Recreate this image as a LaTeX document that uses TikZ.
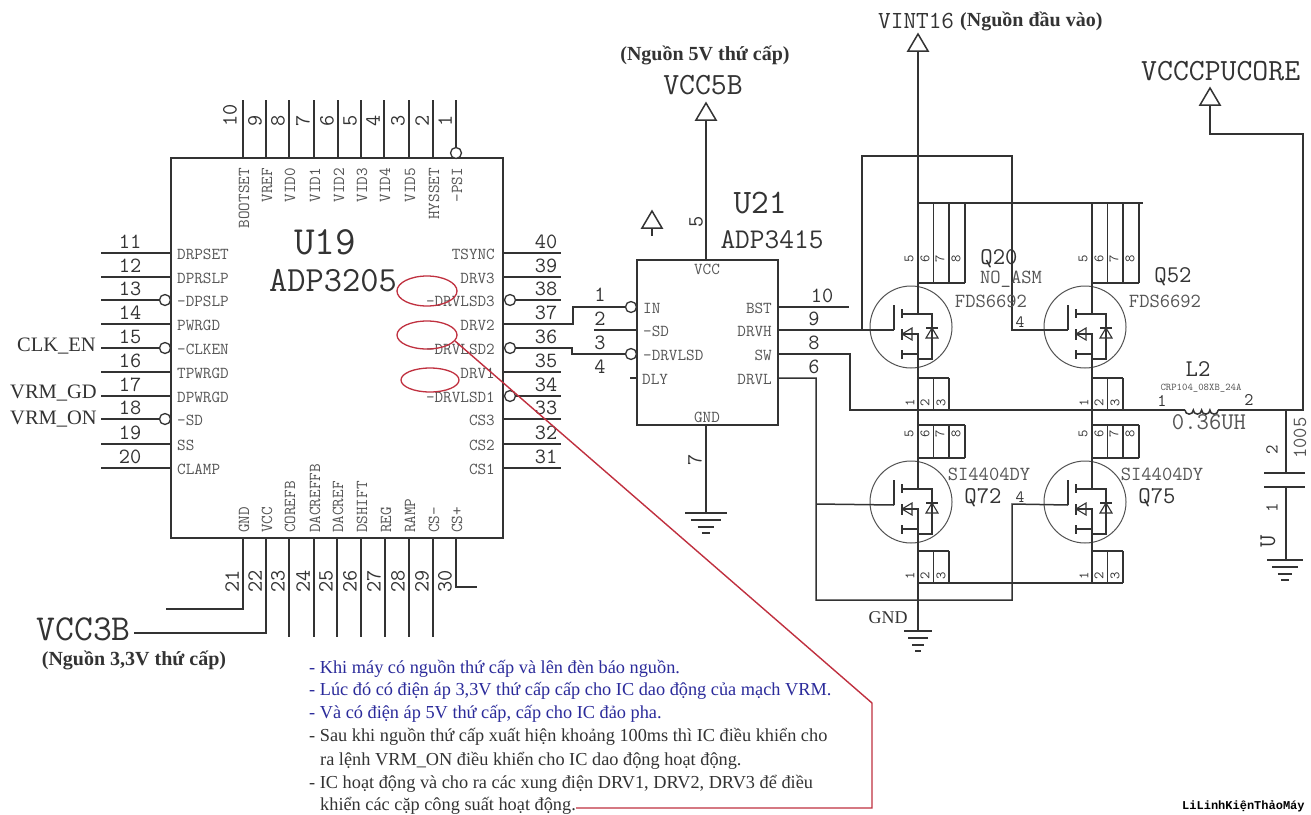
\documentclass[tikz,border=0pt]{standalone}
\usepackage{fontspec}
\setmainfont{Liberation Serif}
\setmonofont[Scale=1.143]{Latin Modern Mono}
\newcommand{\monof}{\ttfamily}
\newfontfamily\wmfont{Liberation Mono}
\usetikzlibrary{shapes.geometric,calc}
\definecolor{ink}{HTML}{333333}
\definecolor{lab}{HTML}{555555}
\definecolor{redl}{HTML}{C0303F}
\definecolor{bluet}{HTML}{2B2B9B}
\newcommand{\fsz}[1]{\fontsize{#1}{#1}\selectfont}
\tikzset{
 wire/.style={draw=ink,line width=1.5pt},
 thin wire/.style={draw=ink,line width=1.1pt},
 chip/.style={draw=ink,line width=1.6pt,inner sep=0pt,rectangle},
 bub/.style={circle,draw=ink,line width=1.3pt,fill=white,minimum size=11pt,inner sep=0pt},
 num/.style={font=\monof\fsz{19},text=ink,inner sep=0pt},
 lbl/.style={font=\monof\bfseries\fsz{14.6},text=lab,inner sep=0pt},
 small/.style={font=\monof\fsz{12.5},text=ink,inner sep=0pt},
 mid/.style={font=\monof\fsz{17.5},text=lab,inner sep=0pt},
 big/.style={font=\monof\fsz{21},text=ink,inner sep=0pt},
 serifl/.style={font=\fsz{20.5},text=ink,inner sep=0pt},
 boldl/.style={font=\bfseries\fsz{20},text=ink,inner sep=0pt},
 note/.style={font=\fsz{18.3},inner sep=0pt,anchor=west},
 ring/.style={ellipse,draw=redl,line width=1.3pt,inner sep=0pt},
 redw/.style={draw=redl,line width=1.4pt},
}
% triangle rail symbol: apex at (x,y)
\newcommand{\railtri}[2]{\draw[wire,line join=miter] (#1,#2) -- ++(10,17) -- ++(-20,0) -- cycle;}
% ground symbol
\newcommand{\gnds}[3]{\draw[wire] (#1-#3,#2) -- (#1+#3,#2);
 \draw[wire] (#1-#3*0.7,#2+7) -- (#1+#3*0.7,#2+7);
 \draw[wire] (#1-#3*0.4,#2+14) -- (#1+#3*0.4,#2+14);
 \draw[wire] (#1-#3*0.2,#2+20) -- (#1+#3*0.2,#2+20);}
% MOSFET: name, cx, cy
\newcommand{\fet}[3]{
 \node[circle,draw=ink!85,line width=1pt,minimum size=82pt,inner sep=0pt] (#1) at (#2,#3) {};
 \begin{scope}[shift={(#2,#3)}]
  \coordinate (#1g) at (-17,3);
  \coordinate (#1d) at (7,-41);
  \coordinate (#1s) at (7,41);
  \draw[wire] (-17,-22) -- (-17,3);
  \draw[wire] (-9,-18) -- (-9,-9);
  \draw[wire] (-9,2) -- (-9,13);
  \draw[wire] (-9,23) -- (-9,32);
  \draw[wire] (-9,-13) -- (7,-13);
  \draw[wire] (-9,27) -- (7,27);
  \draw[wire] (-9,7) -- (7,7) -- (7,41);
  \draw[wire] (7,-41) -- (7,-13) -- (21,-13) -- (21,32) -- (7,32);
  \draw[thin wire] (-9,7) -- (1,1) -- (1,13) -- cycle;
  \draw[thin wire] (21,1) -- (27,11) -- (15,11) -- cycle;
  \draw[thin wire] (15,1) -- (27,1);
 \end{scope}}
% drain comb: x of first leg, top y, bottom y
\newcommand{\combd}[3]{\foreach \dx in {0,15.5,31,47}{\draw[wire] (#1+\dx,#2) -- (#1+\dx,#3);}
 \draw[wire] (#1,#3) -- (#1+47,#3);
 \foreach \dx/\n in {-9/5,7/6,22/7,38/8}{\node[small,rotate=90] at (#1+\dx,#3-24) {\n};}}
\newcommand{\combdb}[3]{\foreach \dx in {0,15.5,31,47}{\draw[wire] (#1+\dx,#2) -- (#1+\dx,#3);}
 \draw[wire] (#1,#2) -- (#1+47,#2); \draw[wire] (#1,#3) -- (#1+47,#3);
 \foreach \dx/\n in {-9/5,7/6,22/7,38/8}{\node[small,rotate=90] at (#1+\dx,#2+9) {\n};}}
\newcommand{\combs}[3]{\foreach \dx in {0,15.5,31}{\draw[wire] (#1+\dx,#2) -- (#1+\dx,#3);}
 \draw[wire] (#1,#2) -- (#1+31,#2);
 \foreach \dx/\n in {-8/1,7/2,23/3}{\node[small,rotate=90] at (#1+\dx,#3-7) {\n};}}
\begin{document}
\begin{tikzpicture}[x=1pt,y=-1pt]
\useasboundingbox (0,0) rectangle (1311,814);
\fill[white] (0,0) rectangle (1311,814);

% ---------- U19 ----------
\node[chip,minimum width=332pt,minimum height=380pt] (u19) at (337,348) {};
\foreach \n/\x/\t/\dx in {10/243/BOOTSET/-13,9/266/VREF/-11,8/289/VID0/-11,7/314/VID1/-11,6/338/VID2/-11,5/361/VID3/-11,4/384/VID4/-11,3/409/VID5/-11,2/433/HYSSET/-11,1/456/-PSI/-11}{
 \coordinate (p\n) at (\x,158);
 \draw[wire] (\x,100) -- (p\n);
 \node[num,rotate=90,anchor=west] at (\x+\dx,127) {\n};
 \node[lbl,rotate=90,anchor=east] at (\x+1,168) {\t};
}
\node[bub] (b1) at (456,153) {};
\foreach \n/\y/\t in {11/253/DRPSET,12/277/DPRSLP,13/300/-DPSLP,14/324/PWRGD,15/348/-CLKEN,16/372/TPWRGD,17/396/DPWRGD,18/419/-SD,19/444/SS,20/468/CLAMP}{
 \coordinate (p\n) at (171,\y);
 \draw[wire] (101,\y) -- (p\n);
 \node[num] at (130,\y-11) {\n};
 \node[lbl,anchor=west] at (177,\y+1) {\t};
}
\foreach \n in {13,15,18}{\node[bub] (b\n) at ($(p\n)+(-6,0)$) {};}
\foreach \n/\y/\t in {40/253/TSYNC,39/277/DRV3,38/300/-DRVLSD3,37/324/DRV2,36/348/-DRVLSD2,35/372/DRV1,34/396/-DRVLSD1,33/419/CS3,32/444/CS2,31/468/CS1}{
 \coordinate (p\n) at (503,\y);
 \draw[wire] (p\n) -- (561,\y);
 \node[num] at (546,\y-11) {\n};
 \node[lbl,anchor=east] at (495,\y+1) {\t};
}
\foreach \n in {38,36,34}{\node[bub] (b\n) at ($(p\n)+(7,0)$) {};}
\foreach \n/\x/\t in {21/243/GND,22/266/VCC,23/289/COREFB,24/314/DACREFFB,25/337/DACREF,26/361/DSHIFT,27/385/REG,28/409/RAMP,29/433/CS-,30/456/CS+}{
 \coordinate (p\n) at (\x,538);
 \node[num,rotate=90,anchor=west] at (\x-11,593) {\n};
 \node[lbl,rotate=90,anchor=west] at (\x+1,533) {\t};
}
\foreach \n/\x in {23/289,24/314,25/337,26/361,27/385,28/409,29/433}{\draw[wire] (p\n) -- (\x,637);}
\coordinate (e21) at (166,609);
\coordinate (e30) at (477,587);
\coordinate (e22) at (134,633);
\draw[wire] (p21) |- (e21);
\draw[wire] (p30) |- (e30);
\node[font=\monof\fsz{32},text=ink,inner sep=0pt,anchor=east] (vcc3) at (131,629) {VCC3B};
\draw[wire] (p22) |- (e22);
\node[boldl] (n33) at (134,660) {(Nguồn 3,3V thứ cấp)};
\node[font=\monof\fsz{35},text=ink,inner sep=0pt] (u19a) at (325,242) {U19};
\node[font=\monof\fsz{31},text=ink,inner sep=0pt] (u19b) at (333,281) {ADP3205};
\node[serifl,anchor=east] (clk) at (96,346) {CLK\_EN};
\node[serifl,anchor=east] (vgd) at (97,393) {VRM\_GD};
\node[serifl,anchor=east] (von) at (97,419) {VRM\_ON};

% ---------- U21 ----------
\node[chip,minimum width=141pt,minimum height=165pt] (u21) at (707.5,342.5) {};
\node[font=\monof\fsz{30},text=ink,inner sep=0pt] (u21a) at (760,203) {U21};
\node[font=\monof\fsz{25},text=ink,inner sep=0pt] (u21b) at (772,240) {ADP3415};
\node[lbl] at (707,269) {VCC};
\node[lbl] at (707,417) {GND};
\node[lbl,anchor=west] at (643,308) {IN};
\node[lbl,anchor=west] at (643,331) {-SD};
\node[lbl,anchor=west] at (643,355) {-DRVLSD};
\node[lbl,anchor=west] at (642,379) {DLY};
\node[lbl,anchor=east] at (772,308) {BST};
\node[lbl,anchor=east] at (772,331) {DRVH};
\node[lbl,anchor=east] at (772,355) {SW};
\node[lbl,anchor=east] at (772,379) {DRVL};
\foreach \n/\x/\y in {1/600/295,2/600/319,3/600/343,4/600/367,10/822/296,9/814/319,8/814/343,6/814/367}{\node[num] at (\x,\y) {\n};}
\node[num,rotate=90] at (696,222) {5};
\node[num,rotate=90] at (695,460) {7};
\node[bub] (bin) at (631,307) {};
\node[bub] (bdl) at (631,354) {};
\draw[wire] (bin) -- (573,307) -- (573,324) -- (p37);
\draw[wire] (bdl) -- (572,354) -- (572,348) -- (b36);
\draw[wire] (594,330) -- (637,330);
\draw[wire] (630,378) -- (637,378);
\draw[wire] (778,307) -- (849,307);
\coordinate (g7) at (706,513);
\draw[wire] (u21.south -| g7) -- (g7);
\gnds{706}{513}{21}

% ---------- rails ----------
\node[font=\monof\fsz{27},text=ink,inner sep=0pt] (vcc5) at (703,85) {VCC5B};
\node[boldl] (n5) at (705,55) {(Nguồn 5V thứ cấp)};
\railtri{706}{103}
\coordinate (t5) at (706,120);
\draw[wire] (t5) -- (u21.north -| t5);
\railtri{652}{211}
\draw[wire] (652,228) -- (652,236);
\node[font=\monof\fsz{21.5},text=ink,inner sep=0pt,anchor=west] (vint) at (878,21) {VINT16};
\node[boldl,anchor=west] (nv) at (960,21) {(Nguồn đầu vào)};
\railtri{918}{34}
\node[font=\monof\fsz{27},text=ink,inner sep=0pt,anchor=west] (vcore) at (1141,71) {VCCCPUCORE};
\railtri{1210}{88}

% ---------- MOSFETs ----------
\fet{qa}{911}{327}
\fet{qb}{1085}{327}
\fet{qc}{911}{502}
\fet{qd}{1085}{502}
\combd{918}{203}{283}
\combd{1092}{203}{283}
\combs{918}{378}{410}
\combs{1092}{378}{410}
\combdb{918}{425}{458}
\combdb{1092}{425}{458}
\combs{918}{551}{583}
\combs{1092}{551}{583}
\draw[wire] (918,51) -- (918,203);
\draw[wire] (918,203) -- (1143,203);
\draw[wire] (qad) -- (918,283);
\draw[wire] (qbd) -- (1092,283);
\draw[wire] (qas) -- (918,378);
\draw[wire] (qbs) -- (1092,378);
\draw[wire] (918,410) -- (918,425);
\draw[wire] (1092,410) -- (1092,425);
\draw[wire] (qcd) -- (918,458);
\draw[wire] (qdd) -- (1092,458);
\draw[wire] (qcs) -- (918,551);
\draw[wire] (qds) -- (1092,551);
\draw[wire] (918,583) -- (1123,583);
\coordinate (gndb) at (918,631);
\draw[wire] (918,583) -- (gndb);
\gnds{918}{631}{14}
\node[font=\fsz{18},text=ink,inner sep=0pt] (gndl) at (888,618) {GND};

% gate and output nets
\draw[wire] (778,330) -- (qag);
\draw[wire] (862,330) -- (862,156) -- (1012,156) -- (1012,330) -- (qbg);
\draw[wire] (778,354) -- (850,354) -- (850,410) -- (1185,410);
\draw[wire] (778,378) -- (816,378) -- (816,600) -- (1012,600) -- (1012,504) -- (qdg);
\draw[wire] (816,504) -- (qcg);
\node[small,font=\monof\fsz{15}] at (1020,322) {4};
\node[small,font=\monof\fsz{15}] at (1020,497) {4};

% Labels of MOSFETs
\node[big] (q20) at (999,259) {Q20};
\node[mid] at (1011,279) {NO\_ASM};
\node[mid] at (991,301) {FDS6692};
\node[big] at (1173,277) {Q52};
\node[mid] at (1165,301) {FDS6692};
\node[mid] at (989,474) {SI4404DY};
\node[mid] at (1162,474) {SI4404DY};
\node[big] at (983,498) {Q72};
\node[big] at (1157,498) {Q75};

% ---------- Inductor + output ----------
\node[big] (l2) at (1198,369) {L2};
\node[font=\monof\fsz{9},text=lab,inner sep=0pt] at (1201,388) {CRP104\_08XB\_24A};
\node[font=\monof\fsz{15.5},text=ink,inner sep=0pt] at (1162,401) {1};
\node[font=\monof\fsz{15.5},text=ink,inner sep=0pt] at (1249,400) {2};
\draw[wire] (1185,410) arc[start angle=180,end angle=0,radius=4.15]
  arc[start angle=180,end angle=0,radius=4.15]
  arc[start angle=180,end angle=0,radius=4.15]
  arc[start angle=180,end angle=0,radius=4.15];
\node[big,text=lab] at (1209,422) {0.36UH};
\draw[wire] (1218.2,410) -- (1303,410) -- (1303,134) -- (1210,134) -- (1210,105);
\draw[wire] (1286,410) -- (1286,473);
\draw[wire] (1264,473) -- (1305,473);
\draw[wire] (1264,487) -- (1305,487);
\draw[wire] (1286,487) -- (1286,560);
\gnds{1285}{560}{18}
\node[num,font=\monof\fsz{16},rotate=90] at (1272,450) {2};
\node[num,font=\monof\fsz{16},rotate=90] at (1272,508) {1};
\node[mid,rotate=90] at (1300,438) {1005};
\node[big,rotate=90] at (1268,541) {U};

% ---------- Explanation text ----------
\node[note,text=bluet] (t1) at (309,669) {- Khi máy có nguồn thứ cấp và lên đèn báo nguồn.};
\node[note,text=bluet] (t2) at (309,691) {- Lúc đó có điện áp 3,3V thứ cấp cấp cho IC dao động của mạch VRM.};
\node[note,text=bluet] (t3) at (309,714) {- Và có điện áp 5V thứ cấp, cấp cho IC đảo pha.};
\node[note,text=ink] (t4) at (309,737) {- Sau khi nguồn thứ cấp xuất hiện khoảng 100ms thì IC điều khiển cho};
\node[note,text=ink] (t5b) at (320,761) {ra lệnh VRM\_ON điều khiển cho IC dao động hoạt động.};
\node[note,text=ink] (t6) at (309,784) {- IC hoạt động và cho ra các xung điện DRV1, DRV2, DRV3 để điều};
\node[note,text=ink] (t7) at (320,806) {khiển các cặp công suất hoạt động.};

% ---------- Red marks ----------
\node[ring,minimum width=60pt,minimum height=30pt] (e1) at (427,291) {};
\node[ring,minimum width=60pt,minimum height=28pt] (e2) at (427,335) {};
\node[ring,minimum width=58pt,minimum height=24pt] (e3) at (430,380) {};
\coordinate (ra) at (872,703);
\coordinate (rb) at (872,808);
\draw[redw] (e2.-12) -- (ra) -- (rb) -- (t7.east |- rb);

% watermark
\node[font=\wmfont\bfseries\fsz{12},text=black,inner sep=0pt,anchor=west] (wm) at (1182,806) {LiLinhKiệnThảoMáy};
\end{tikzpicture}
\end{document}
